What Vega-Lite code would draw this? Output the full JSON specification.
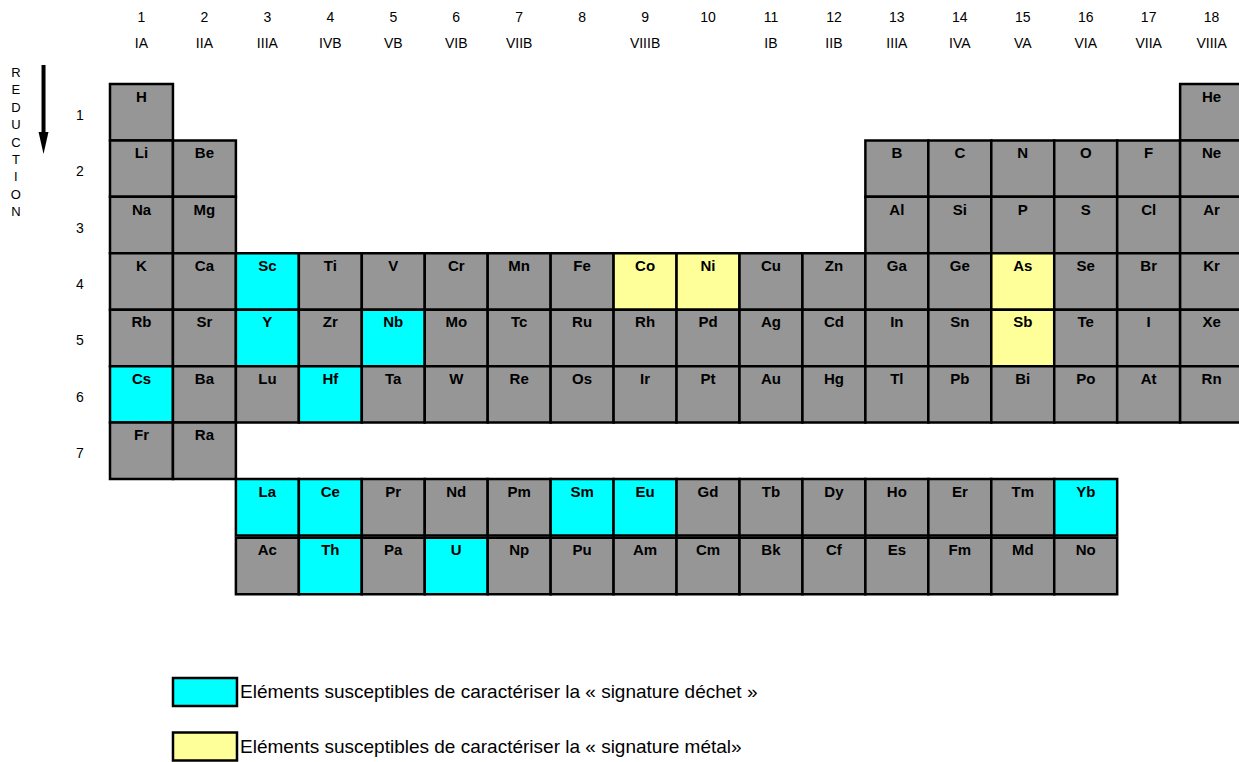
{
  "$schema": "https://vega.github.io/schema/vega-lite/v6.json",
  "width": 1239,
  "height": 762,
  "padding": 0,
  "autosize": {"type": "none"},
  "background": "white",
  "config": {
    "view": {"stroke": null},
    "axis": {"disable": true},
    "text": {"font": "Liberation Sans", "color": "#000000"}
  },
  "datasets": {
    "cells": [
      {"sym": "H", "col": 1, "row": 1, "cat": "autre"},
      {"sym": "He", "col": 18, "row": 1, "cat": "autre"},
      {"sym": "Li", "col": 1, "row": 2, "cat": "autre"},
      {"sym": "Be", "col": 2, "row": 2, "cat": "autre"},
      {"sym": "B", "col": 13, "row": 2, "cat": "autre"},
      {"sym": "C", "col": 14, "row": 2, "cat": "autre"},
      {"sym": "N", "col": 15, "row": 2, "cat": "autre"},
      {"sym": "O", "col": 16, "row": 2, "cat": "autre"},
      {"sym": "F", "col": 17, "row": 2, "cat": "autre"},
      {"sym": "Ne", "col": 18, "row": 2, "cat": "autre"},
      {"sym": "Na", "col": 1, "row": 3, "cat": "autre"},
      {"sym": "Mg", "col": 2, "row": 3, "cat": "autre"},
      {"sym": "Al", "col": 13, "row": 3, "cat": "autre"},
      {"sym": "Si", "col": 14, "row": 3, "cat": "autre"},
      {"sym": "P", "col": 15, "row": 3, "cat": "autre"},
      {"sym": "S", "col": 16, "row": 3, "cat": "autre"},
      {"sym": "Cl", "col": 17, "row": 3, "cat": "autre"},
      {"sym": "Ar", "col": 18, "row": 3, "cat": "autre"},
      {"sym": "K", "col": 1, "row": 4, "cat": "autre"},
      {"sym": "Ca", "col": 2, "row": 4, "cat": "autre"},
      {"sym": "Sc", "col": 3, "row": 4, "cat": "déchet"},
      {"sym": "Ti", "col": 4, "row": 4, "cat": "autre"},
      {"sym": "V", "col": 5, "row": 4, "cat": "autre"},
      {"sym": "Cr", "col": 6, "row": 4, "cat": "autre"},
      {"sym": "Mn", "col": 7, "row": 4, "cat": "autre"},
      {"sym": "Fe", "col": 8, "row": 4, "cat": "autre"},
      {"sym": "Co", "col": 9, "row": 4, "cat": "métal"},
      {"sym": "Ni", "col": 10, "row": 4, "cat": "métal"},
      {"sym": "Cu", "col": 11, "row": 4, "cat": "autre"},
      {"sym": "Zn", "col": 12, "row": 4, "cat": "autre"},
      {"sym": "Ga", "col": 13, "row": 4, "cat": "autre"},
      {"sym": "Ge", "col": 14, "row": 4, "cat": "autre"},
      {"sym": "As", "col": 15, "row": 4, "cat": "métal"},
      {"sym": "Se", "col": 16, "row": 4, "cat": "autre"},
      {"sym": "Br", "col": 17, "row": 4, "cat": "autre"},
      {"sym": "Kr", "col": 18, "row": 4, "cat": "autre"},
      {"sym": "Rb", "col": 1, "row": 5, "cat": "autre"},
      {"sym": "Sr", "col": 2, "row": 5, "cat": "autre"},
      {"sym": "Y", "col": 3, "row": 5, "cat": "déchet"},
      {"sym": "Zr", "col": 4, "row": 5, "cat": "autre"},
      {"sym": "Nb", "col": 5, "row": 5, "cat": "déchet"},
      {"sym": "Mo", "col": 6, "row": 5, "cat": "autre"},
      {"sym": "Tc", "col": 7, "row": 5, "cat": "autre"},
      {"sym": "Ru", "col": 8, "row": 5, "cat": "autre"},
      {"sym": "Rh", "col": 9, "row": 5, "cat": "autre"},
      {"sym": "Pd", "col": 10, "row": 5, "cat": "autre"},
      {"sym": "Ag", "col": 11, "row": 5, "cat": "autre"},
      {"sym": "Cd", "col": 12, "row": 5, "cat": "autre"},
      {"sym": "In", "col": 13, "row": 5, "cat": "autre"},
      {"sym": "Sn", "col": 14, "row": 5, "cat": "autre"},
      {"sym": "Sb", "col": 15, "row": 5, "cat": "métal"},
      {"sym": "Te", "col": 16, "row": 5, "cat": "autre"},
      {"sym": "I", "col": 17, "row": 5, "cat": "autre"},
      {"sym": "Xe", "col": 18, "row": 5, "cat": "autre"},
      {"sym": "Cs", "col": 1, "row": 6, "cat": "déchet"},
      {"sym": "Ba", "col": 2, "row": 6, "cat": "autre"},
      {"sym": "Lu", "col": 3, "row": 6, "cat": "autre"},
      {"sym": "Hf", "col": 4, "row": 6, "cat": "déchet"},
      {"sym": "Ta", "col": 5, "row": 6, "cat": "autre"},
      {"sym": "W", "col": 6, "row": 6, "cat": "autre"},
      {"sym": "Re", "col": 7, "row": 6, "cat": "autre"},
      {"sym": "Os", "col": 8, "row": 6, "cat": "autre"},
      {"sym": "Ir", "col": 9, "row": 6, "cat": "autre"},
      {"sym": "Pt", "col": 10, "row": 6, "cat": "autre"},
      {"sym": "Au", "col": 11, "row": 6, "cat": "autre"},
      {"sym": "Hg", "col": 12, "row": 6, "cat": "autre"},
      {"sym": "Tl", "col": 13, "row": 6, "cat": "autre"},
      {"sym": "Pb", "col": 14, "row": 6, "cat": "autre"},
      {"sym": "Bi", "col": 15, "row": 6, "cat": "autre"},
      {"sym": "Po", "col": 16, "row": 6, "cat": "autre"},
      {"sym": "At", "col": 17, "row": 6, "cat": "autre"},
      {"sym": "Rn", "col": 18, "row": 6, "cat": "autre"},
      {"sym": "Fr", "col": 1, "row": 7, "cat": "autre"},
      {"sym": "Ra", "col": 2, "row": 7, "cat": "autre"},
      {"sym": "La", "col": 3, "row": 8, "cat": "déchet"},
      {"sym": "Ce", "col": 4, "row": 8, "cat": "déchet"},
      {"sym": "Pr", "col": 5, "row": 8, "cat": "autre"},
      {"sym": "Nd", "col": 6, "row": 8, "cat": "autre"},
      {"sym": "Pm", "col": 7, "row": 8, "cat": "autre"},
      {"sym": "Sm", "col": 8, "row": 8, "cat": "déchet"},
      {"sym": "Eu", "col": 9, "row": 8, "cat": "déchet"},
      {"sym": "Gd", "col": 10, "row": 8, "cat": "autre"},
      {"sym": "Tb", "col": 11, "row": 8, "cat": "autre"},
      {"sym": "Dy", "col": 12, "row": 8, "cat": "autre"},
      {"sym": "Ho", "col": 13, "row": 8, "cat": "autre"},
      {"sym": "Er", "col": 14, "row": 8, "cat": "autre"},
      {"sym": "Tm", "col": 15, "row": 8, "cat": "autre"},
      {"sym": "Yb", "col": 16, "row": 8, "cat": "déchet"},
      {"sym": "Ac", "col": 3, "row": 9.04, "cat": "autre"},
      {"sym": "Th", "col": 4, "row": 9.04, "cat": "déchet"},
      {"sym": "Pa", "col": 5, "row": 9.04, "cat": "autre"},
      {"sym": "U", "col": 6, "row": 9.04, "cat": "déchet"},
      {"sym": "Np", "col": 7, "row": 9.04, "cat": "autre"},
      {"sym": "Pu", "col": 8, "row": 9.04, "cat": "autre"},
      {"sym": "Am", "col": 9, "row": 9.04, "cat": "autre"},
      {"sym": "Cm", "col": 10, "row": 9.04, "cat": "autre"},
      {"sym": "Bk", "col": 11, "row": 9.04, "cat": "autre"},
      {"sym": "Cf", "col": 12, "row": 9.04, "cat": "autre"},
      {"sym": "Es", "col": 13, "row": 9.04, "cat": "autre"},
      {"sym": "Fm", "col": 14, "row": 9.04, "cat": "autre"},
      {"sym": "Md", "col": 15, "row": 9.04, "cat": "autre"},
      {"sym": "No", "col": 16, "row": 9.04, "cat": "autre"}
    ],
    "headers": [
      {"col": 1, "num": "1", "grp": "IA"},
      {"col": 2, "num": "2", "grp": "IIA"},
      {"col": 3, "num": "3", "grp": "IIIA"},
      {"col": 4, "num": "4", "grp": "IVB"},
      {"col": 5, "num": "5", "grp": "VB"},
      {"col": 6, "num": "6", "grp": "VIB"},
      {"col": 7, "num": "7", "grp": "VIIB"},
      {"col": 8, "num": "8", "grp": ""},
      {"col": 9, "num": "9", "grp": "VIIIB"},
      {"col": 10, "num": "10", "grp": ""},
      {"col": 11, "num": "11", "grp": "IB"},
      {"col": 12, "num": "12", "grp": "IIB"},
      {"col": 13, "num": "13", "grp": "IIIA"},
      {"col": 14, "num": "14", "grp": "IVA"},
      {"col": 15, "num": "15", "grp": "VA"},
      {"col": 16, "num": "16", "grp": "VIA"},
      {"col": 17, "num": "17", "grp": "VIIA"},
      {"col": 18, "num": "18", "grp": "VIIIA"}
    ],
    "periods": [
      {"row": 1, "label": "1"},
      {"row": 2, "label": "2"},
      {"row": 3, "label": "3"},
      {"row": 4, "label": "4"},
      {"row": 5, "label": "5"},
      {"row": 6, "label": "6"},
      {"row": 7, "label": "7"}
    ]
  },
  "encoding": {
    "x": {"type": "quantitative", "scale": {"domain": [-1.2474, 18.4352], "nice": false, "zero": false}},
    "y": {"type": "quantitative", "scale": {"domain": [-0.98857, 12.5147], "nice": false, "zero": false, "reverse": true}}
  },
  "layer": [
    {
      "data": {"name": "cells"},
      "mark": {"type": "point", "filled": true, "opacity": 1, "shape": "M-1,-0.8964L1,-0.8964L1,0.8964L-1,0.8964Z", "size": 3963, "stroke": "#000000", "strokeWidth": 2.5},
      "encoding": {
        "x": {"field": "col", "type": "quantitative"},
        "y": {"field": "row", "type": "quantitative"},
        "color": {"field": "cat", "type": "nominal", "legend": null,
          "scale": {"domain": ["autre", "déchet", "métal"], "range": ["#969696", "#00FFFF", "#FFFF99"]}}
      }
    },
    {
      "data": {"name": "cells"},
      "mark": {"type": "text", "fontSize": 15, "fontWeight": "bold", "baseline": "middle", "align": "center", "dy": -15.5},
      "encoding": {
        "x": {"field": "col", "type": "quantitative"},
        "y": {"field": "row", "type": "quantitative"},
        "text": {"field": "sym"}
      }
    },
    {
      "data": {"name": "headers"},
      "mark": {"type": "text", "fontSize": 14, "baseline": "middle", "align": "center"},
      "encoding": {
        "x": {"field": "col", "type": "quantitative"},
        "y": {"datum": -0.67},
        "text": {"field": "num"}
      }
    },
    {
      "data": {"name": "headers"},
      "mark": {"type": "text", "fontSize": 14, "baseline": "middle", "align": "center"},
      "encoding": {
        "x": {"field": "col", "type": "quantitative"},
        "y": {"datum": -0.209},
        "text": {"field": "grp"}
      }
    },
    {
      "data": {"name": "periods"},
      "mark": {"type": "text", "fontSize": 14, "baseline": "middle", "align": "center", "dy": 3.5},
      "encoding": {
        "x": {"datum": 0.02},
        "y": {"field": "row", "type": "quantitative"},
        "text": {"field": "label"}
      }
    },
    {
      "data": {"values": [{"word": "REDUCTION"}]},
      "mark": {"type": "text", "fontSize": 13, "baseline": "middle", "align": "center", "lineHeight": 17.4,
        "text": ["R", "E", "D", "U", "C", "T", "I", "O", "N"]},
      "encoding": {
        "x": {"datum": -0.9947},
        "y": {"datum": 0.305}
      }
    },
    {
      "data": {"values": [{"word": "REDUCTION"}]},
      "mark": {"type": "rule", "color": "#000000", "strokeWidth": 4},
      "encoding": {
        "x": {"datum": -0.556},
        "y": {"datum": 0.163},
        "y2": {"datum": 1.40}
      }
    },
    {
      "data": {"values": [{"word": "REDUCTION"}]},
      "mark": {"type": "point", "filled": true, "opacity": 1, "color": "#000000", "shape": "M-0.45,-1L0.45,-1L0,1Z", "size": 484},
      "encoding": {
        "x": {"datum": -0.556},
        "y": {"datum": 1.5455}
      }
    },
    {
      "data": {"values": [{"cat": "déchet"}]},
      "mark": {"type": "point", "filled": true, "opacity": 1, "shape": "M-1,-0.4375L1,-0.4375L1,0.4375L-1,0.4375Z", "size": 4096, "stroke": "#000000", "strokeWidth": 2.5},
      "encoding": {
        "x": {"datum": 2.009},
        "y": {"datum": 11.2745},
        "color": {"field": "cat", "type": "nominal", "legend": null}
      }
    },
    {
      "data": {"values": [{"cat": "métal"}]},
      "mark": {"type": "point", "filled": true, "opacity": 1, "shape": "M-1,-0.4375L1,-0.4375L1,0.4375L-1,0.4375Z", "size": 4096, "stroke": "#000000", "strokeWidth": 2.5},
      "encoding": {
        "x": {"datum": 2.009},
        "y": {"datum": 12.2404},
        "color": {"field": "cat", "type": "nominal", "legend": null}
      }
    },
    {
      "data": {"values": [{"label": "Eléments susceptibles de caractériser la « signature déchet »"}]},
      "mark": {"type": "text", "fontSize": 19, "baseline": "middle", "align": "left"},
      "encoding": {
        "x": {"datum": 2.565},
        "y": {"datum": 11.2745},
        "text": {"field": "label"}
      }
    },
    {
      "data": {"values": [{"label": "Eléments susceptibles de caractériser la « signature métal»"}]},
      "mark": {"type": "text", "fontSize": 19, "baseline": "middle", "align": "left"},
      "encoding": {
        "x": {"datum": 2.565},
        "y": {"datum": 12.2404},
        "text": {"field": "label"}
      }
    }
  ]
}
